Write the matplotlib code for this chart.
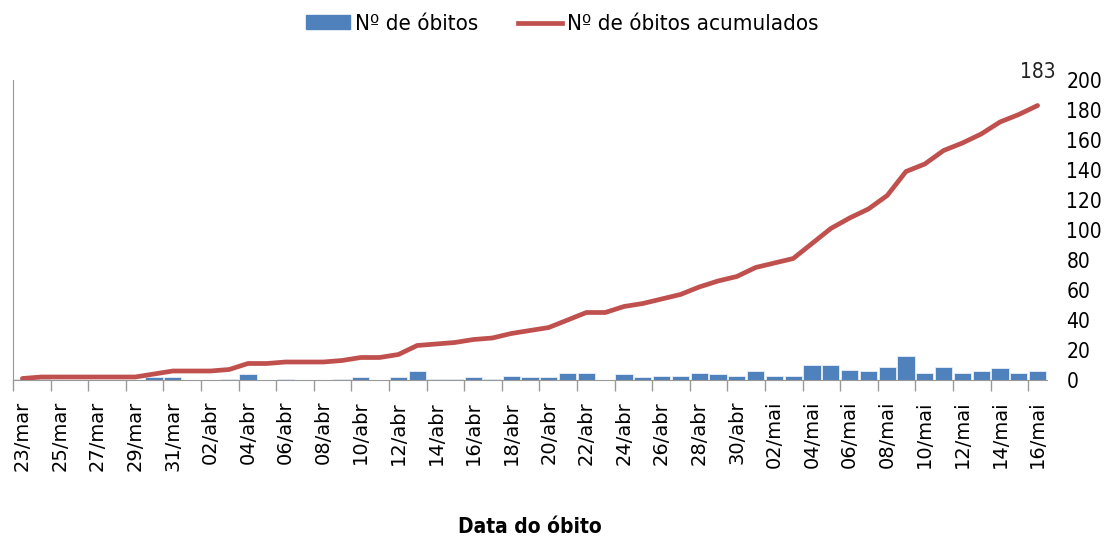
import matplotlib.pyplot as plt
from matplotlib.patches import Patch
from matplotlib.lines import Line2D

date_labels = [
    "23/mar", "24/mar", "25/mar", "26/mar", "27/mar", "28/mar", "29/mar", "30/mar", "31/mar",
    "01/abr", "02/abr", "03/abr", "04/abr", "05/abr", "06/abr", "07/abr", "08/abr", "09/abr",
    "10/abr", "11/abr", "12/abr", "13/abr", "14/abr", "15/abr", "16/abr", "17/abr", "18/abr",
    "19/abr", "20/abr", "21/abr", "22/abr", "23/abr", "24/abr", "25/abr", "26/abr", "27/abr",
    "28/abr", "29/abr", "30/abr", "01/mai", "02/mai", "03/mai", "04/mai", "05/mai", "06/mai",
    "07/mai", "08/mai", "09/mai", "10/mai", "11/mai", "12/mai", "13/mai", "14/mai", "15/mai",
    "16/mai",
]
obitos = [
    1, 1, 0, 0, 0, 0, 0, 2, 2,
    0, 0, 1, 4, 0, 1, 0, 0, 1,
    2, 0, 2, 6, 1, 1, 2, 1, 3,
    2, 2, 5, 5, 0, 4, 2, 3, 3,
    5, 4, 3, 6, 3, 3, 10, 10, 7,
    6, 9, 16, 5, 9, 5, 6, 8, 5,
    6,
]
acumulados = [
    1, 2, 2, 2, 2, 2, 2, 4, 6,
    6, 6, 7, 11, 11, 12, 12, 12, 13,
    15, 15, 17, 23, 24, 25, 27, 28, 31,
    33, 35, 40, 45, 45, 49, 51, 54, 57,
    62, 66, 69, 75, 78, 81, 91, 101, 108,
    114, 123, 139, 144, 153, 158, 164, 172, 177,
    183,
]

x = list(range(len(date_labels)))

# condensed face stands in for the narrow Calibri of the original
txt = dict(family="DejaVu Sans", stretch="condensed")

fig = plt.figure(figsize=(11.09, 5.39), dpi=100)
ax = fig.add_axes([13 / 1109, 1 - 380 / 539, (1047 - 13) / 1109, 300 / 539])

ax.bar(x, obitos, width=0.92, color="#4F81BD", edgecolor="#E8EEF7", linewidth=0.6, zorder=2)
ax.plot(x, acumulados, color="#C0504D", linewidth=3.4, solid_capstyle="round", zorder=3)
ax.text(x[-1], acumulados[-1] + 16, str(acumulados[-1]), ha="center", va="bottom",
        fontsize=15, color="#222222", **txt)

ax.set_xlim(-0.5, len(x) - 0.5)
ax.set_ylim(0, 200)

# labels every second day, tick marks at category boundaries
ax.set_xticks(x[::2])
ax.set_xticklabels(date_labels[::2], rotation=90, fontsize=14, family="DejaVu Sans")
ax.set_xticks([i - 0.5 for i in x[::2]], minor=True)
ax.tick_params(axis="x", which="major", length=0, pad=15)
ax.tick_params(axis="x", which="minor", length=8, color="#999999", width=1)

ax.yaxis.tick_right()
ax.set_yticks(range(0, 201, 20))
ax.tick_params(axis="y", length=0, pad=14, labelsize=15)
for lbl in ax.get_yticklabels():
    lbl.set_family("DejaVu Sans")
    lbl.set_stretch("condensed")

for side in ["top", "right"]:
    ax.spines[side].set_visible(False)
for side in ["left", "bottom"]:
    ax.spines[side].set_color("#999999")

ax.set_xlabel("Data do óbito", fontsize=15, fontweight="bold", labelpad=33, **txt)

handles = [
    Patch(facecolor="#4F81BD", edgecolor="#4F81BD"),
    Line2D([0], [0], color="#C0504D", linewidth=3.4),
]
fig.legend(handles, ["Nº de óbitos", "Nº de óbitos acumulados"], loc="center",
           bbox_to_anchor=(562 / 1109, 1 - 24 / 539), ncol=2, frameon=False,
           prop={"family": "DejaVu Sans", "stretch": "condensed", "size": 16},
           handlelength=2.0, handleheight=0.6, columnspacing=1.8, handletextpad=0.2)

fig.savefig("out.png", dpi=100)
